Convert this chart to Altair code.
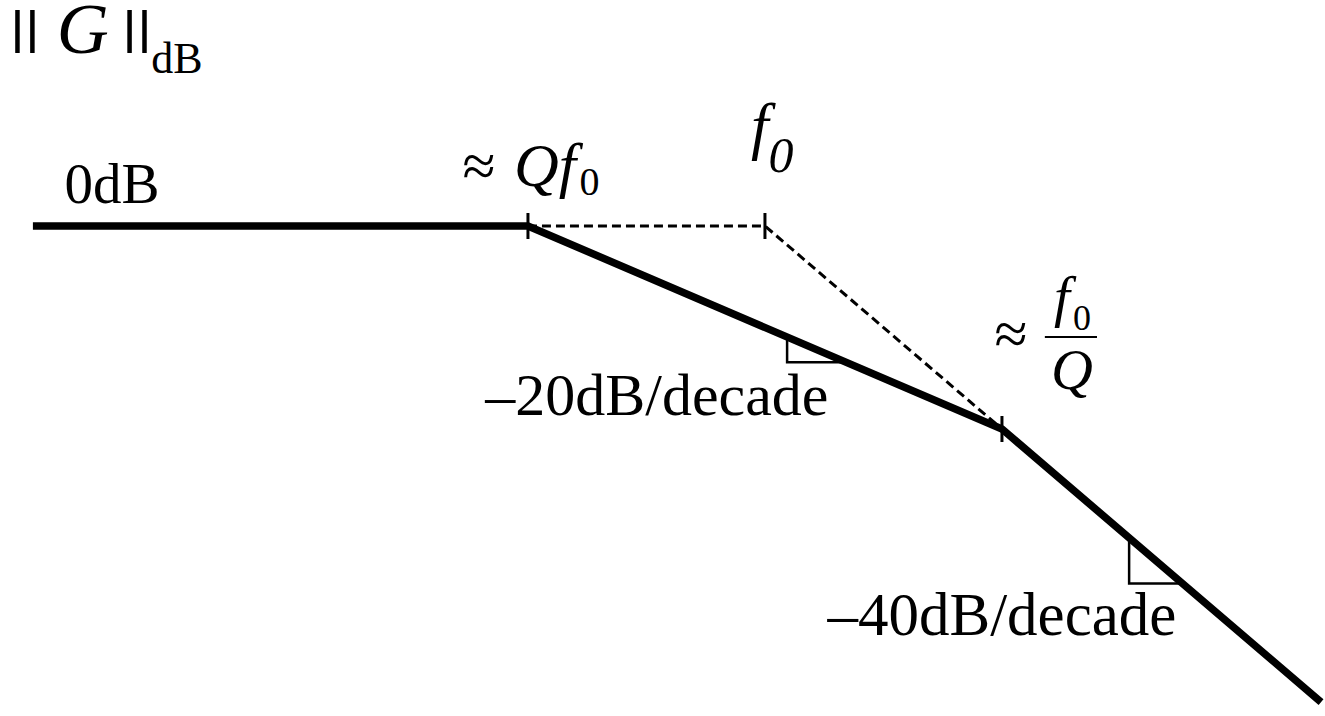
import altair as alt
import numpy as np
import pandas as pd

# Bode magnitude asymptotes of a low-Q second-order system (Q = 0.1),
# frequency normalised to f0, magnitude in dB.
solid_f = [0.000815, 0.1, 10.0, 222.0]
solid_db = [0.0, 0.0, -40.0, -93.8]

dashed_f = [0.1, 1.0, 10.0]
dashed_db = [0.0, 0.0, -40.0]

tick_f = [0.1, 1.0, 10.0]
tick_db = [0.0, 0.0, -40.0]

# slope markers: frequency of the vertical leg, drop in dB, slope in dB/decade
tri_f = [1.24, 34.4]
tri_drop = [5.0, 9.0]
tri_slope = [-20.0, -40.0]

# labels: text, position (decades re f0, dB), font size, style
lab_text = ["0dB", "\u2248", "Qf", "0", "f", "0", "\u2248", "f", "0", "Q",
            "\u201320dB/decade", "\u201340dB/decade",
            "G", "dB"]
lab_dec = [-2.755, -1.207, -0.928, -0.740, -0.022, 0.068, 1.038, 1.253, 1.338, 1.295,
           -0.456, 1.000,
           -2.878, -2.481]
lab_db = [4.53, 7.88, 7.88, 6.11, 15.6, 10.64, -25.22, -17.73, -20.49, -32.12,
          -37.24, -80.59,
          34.09, 30.15]
lab_size = [57, 60, 62, 40, 63, 50, 60, 57, 36, 58,
            60, 61,
            72, 44]
lab_style = ["roman", "roman", "italic", "roman", "italic", "italic", "roman", "italic", "roman", "italic",
             "roman", "roman",
             "italic", "roman"]

# norm bars around G (decades re f0) and their vertical extent in dB
norm_dec = [-3.154, -3.091, -2.681, -2.618]
norm_db = [42.56, 34.09]

# fraction bar of f0/Q
bar_dec = [1.181, 1.401]
bar_db = -21.87

FONT = "Liberation Serif"

solid = pd.DataFrame({"f": solid_f, "db": solid_db})
dashed = pd.DataFrame({"f": dashed_f, "db": dashed_db})
ticks = pd.DataFrame({"f": tick_f, "db": tick_db})

rows = []
for i, (fa, drop, slope) in enumerate(zip(tri_f, tri_drop, tri_slope)):
    level = float(np.interp(np.log10(fa), np.log10(solid_f), solid_db))
    fb = fa * 10 ** (drop / -slope)
    rows += [
        {"tri": i, "k": 0, "f": fa, "db": level},
        {"tri": i, "k": 1, "f": fa, "db": level - drop},
        {"tri": i, "k": 2, "f": fb, "db": level - drop},
    ]
tris = pd.DataFrame(rows)

labels = pd.DataFrame({
    "text": lab_text,
    "f": [10 ** d for d in lab_dec],
    "db": lab_db,
    "size": lab_size,
    "style": lab_style,
})
norms = pd.DataFrame({"f": [10 ** d for d in norm_dec], "db": norm_db[0], "db2": norm_db[1]})
fbar = pd.DataFrame({"f": [10 ** bar_dec[0]], "f2": [10 ** bar_dec[1]], "db": [bar_db]})

xs = alt.Scale(type="log", domain=[0.000592, 230.7], nice=False)
ys = alt.Scale(domain=[-96.55, 44.53], nice=False, zero=False)
X = alt.X("f:Q", scale=xs, axis=None)
Y = alt.Y("db:Q", scale=ys, axis=None)

solid_line = alt.Chart(solid).mark_line(color="black", strokeWidth=7.5, strokeJoin="miter").encode(x=X, y=Y)
dashed_line = alt.Chart(dashed).mark_line(color="black", strokeWidth=3, strokeDash=[9, 5]).encode(x=X, y=Y)
tick_marks = alt.Chart(ticks).mark_tick(
    color="black", opacity=1, orient="vertical", size=26, thickness=3
).encode(x=X, y=Y)
tri_lines = alt.Chart(tris).mark_line(color="black", strokeWidth=2.5, strokeJoin="miter").encode(
    x=X, y=Y, detail="tri:N", order="k:Q")
bar_rule = alt.Chart(fbar).mark_rule(color="black", strokeWidth=2).encode(x=X, x2="f2:Q", y=Y)
norm_rules = alt.Chart(norms).mark_rule(color="black", strokeWidth=4.5).encode(x=X, y=Y, y2="db2:Q")


def text_layer(style):
    kw = {}
    if style == "italic":
        kw["fontStyle"] = "italic"
    return alt.Chart(labels).transform_filter(
        alt.datum.style == style
    ).mark_text(font=FONT, color="black", align="center", baseline="alphabetic", **kw).encode(
        x=X, y=Y, text="text:N", size=alt.Size("size:Q", scale=None, legend=None))


chart = alt.layer(
    dashed_line, solid_line, tick_marks, tri_lines, bar_rule, norm_rules,
    text_layer("roman"), text_layer("italic"),
).properties(
    width=1325, height=716, padding=0,
    autosize=alt.AutoSizeParams(type="none"),
    background="white",
).configure_view(strokeWidth=0)

chart.save("out.html", embed_options={"renderer": "svg", "actions": False})
